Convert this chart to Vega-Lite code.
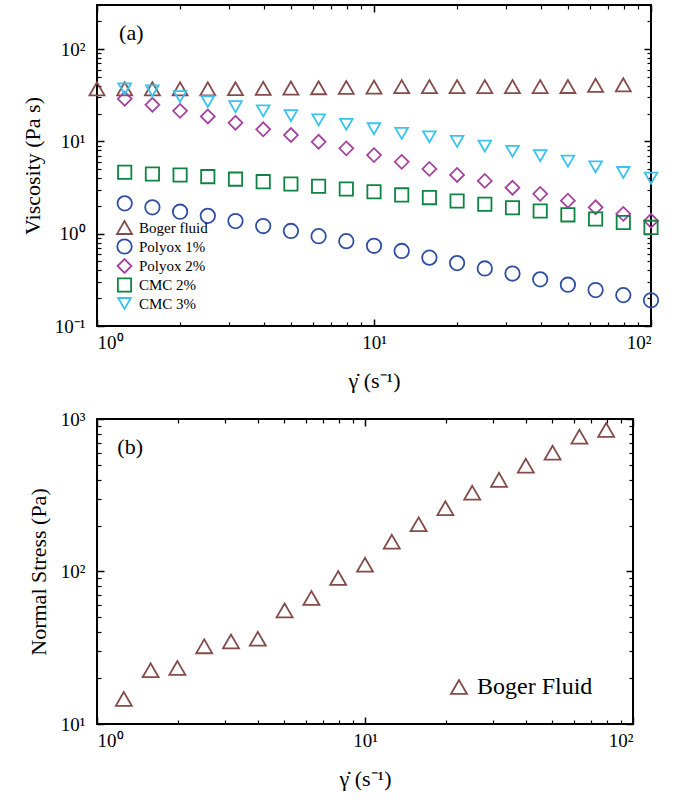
{
  "$schema": "https://vega.github.io/schema/vega-lite/v6.json",
  "padding": {"left": 20, "top": 3, "right": 5, "bottom": 5},
  "spacing": 93,
  "columns": 1,
  "align": "all",
  "bounds": "flush",
  "resolve": {"scale": {"color": "independent", "shape": "independent", "size": "independent"}, "legend": {"color": "independent", "shape": "independent", "size": "independent"}},
  "config": {
    "font": "Liberation Serif",
    "view": {"stroke": "black", "strokeWidth": 2},
    "axis": {"labelFont": "Liberation Serif", "labelFontSize": 19, "labelColor": "black", "titleFont": "Liberation Serif", "titleFontSize": 22, "titleFontWeight": "normal", "titleColor": "black", "grid": false, "domain": false, "tickColor": "black"},
    "legend": {"labelFont": "Liberation Serif", "labelColor": "black"}
  },
  "datasets": {
    "visc": [
      {"x": 1, "v": 37.1, "s": "Boger fluid"},
      {"x": 1.259, "v": 37.1, "s": "Boger fluid"},
      {"x": 1.585, "v": 37.1, "s": "Boger fluid"},
      {"x": 1.995, "v": 37.1, "s": "Boger fluid"},
      {"x": 2.512, "v": 37.1, "s": "Boger fluid"},
      {"x": 3.162, "v": 37.2, "s": "Boger fluid"},
      {"x": 3.981, "v": 37.5, "s": "Boger fluid"},
      {"x": 5.012, "v": 37.8, "s": "Boger fluid"},
      {"x": 6.31, "v": 38.1, "s": "Boger fluid"},
      {"x": 7.943, "v": 38.4, "s": "Boger fluid"},
      {"x": 10, "v": 38.7, "s": "Boger fluid"},
      {"x": 12.59, "v": 39.2, "s": "Boger fluid"},
      {"x": 15.85, "v": 39.2, "s": "Boger fluid"},
      {"x": 19.95, "v": 39.2, "s": "Boger fluid"},
      {"x": 25.12, "v": 39.2, "s": "Boger fluid"},
      {"x": 31.62, "v": 39.2, "s": "Boger fluid"},
      {"x": 39.81, "v": 39.2, "s": "Boger fluid"},
      {"x": 50.12, "v": 39.3, "s": "Boger fluid"},
      {"x": 63.1, "v": 40.5, "s": "Boger fluid"},
      {"x": 79.43, "v": 41, "s": "Boger fluid"},
      {"x": 1.259, "v": 2.13, "s": "Polyox 1%"},
      {"x": 1.585, "v": 1.93, "s": "Polyox 1%"},
      {"x": 1.995, "v": 1.73, "s": "Polyox 1%"},
      {"x": 2.512, "v": 1.56, "s": "Polyox 1%"},
      {"x": 3.162, "v": 1.37, "s": "Polyox 1%"},
      {"x": 3.981, "v": 1.21, "s": "Polyox 1%"},
      {"x": 5.012, "v": 1.07, "s": "Polyox 1%"},
      {"x": 6.31, "v": 0.94, "s": "Polyox 1%"},
      {"x": 7.943, "v": 0.83, "s": "Polyox 1%"},
      {"x": 10, "v": 0.74, "s": "Polyox 1%"},
      {"x": 12.59, "v": 0.65, "s": "Polyox 1%"},
      {"x": 15.85, "v": 0.55, "s": "Polyox 1%"},
      {"x": 19.95, "v": 0.48, "s": "Polyox 1%"},
      {"x": 25.12, "v": 0.42, "s": "Polyox 1%"},
      {"x": 31.62, "v": 0.37, "s": "Polyox 1%"},
      {"x": 39.81, "v": 0.32, "s": "Polyox 1%"},
      {"x": 50.12, "v": 0.28, "s": "Polyox 1%"},
      {"x": 63.1, "v": 0.245, "s": "Polyox 1%"},
      {"x": 79.43, "v": 0.216, "s": "Polyox 1%"},
      {"x": 100, "v": 0.19, "s": "Polyox 1%"},
      {"x": 1.259, "v": 28.9, "s": "Polyox 2%"},
      {"x": 1.585, "v": 24.9, "s": "Polyox 2%"},
      {"x": 1.995, "v": 21.4, "s": "Polyox 2%"},
      {"x": 2.512, "v": 18.6, "s": "Polyox 2%"},
      {"x": 3.162, "v": 15.9, "s": "Polyox 2%"},
      {"x": 3.981, "v": 13.5, "s": "Polyox 2%"},
      {"x": 5.012, "v": 11.7, "s": "Polyox 2%"},
      {"x": 6.31, "v": 9.9, "s": "Polyox 2%"},
      {"x": 7.943, "v": 8.4, "s": "Polyox 2%"},
      {"x": 10, "v": 7.1, "s": "Polyox 2%"},
      {"x": 12.59, "v": 6.0, "s": "Polyox 2%"},
      {"x": 15.85, "v": 5.03, "s": "Polyox 2%"},
      {"x": 19.95, "v": 4.33, "s": "Polyox 2%"},
      {"x": 25.12, "v": 3.73, "s": "Polyox 2%"},
      {"x": 31.62, "v": 3.15, "s": "Polyox 2%"},
      {"x": 39.81, "v": 2.7, "s": "Polyox 2%"},
      {"x": 50.12, "v": 2.28, "s": "Polyox 2%"},
      {"x": 63.1, "v": 1.93, "s": "Polyox 2%"},
      {"x": 79.43, "v": 1.64, "s": "Polyox 2%"},
      {"x": 100, "v": 1.38, "s": "Polyox 2%"},
      {"x": 1.259, "v": 4.62, "s": "CMC 2%"},
      {"x": 1.585, "v": 4.44, "s": "CMC 2%"},
      {"x": 1.995, "v": 4.33, "s": "CMC 2%"},
      {"x": 2.512, "v": 4.15, "s": "CMC 2%"},
      {"x": 3.162, "v": 3.9, "s": "CMC 2%"},
      {"x": 3.981, "v": 3.66, "s": "CMC 2%"},
      {"x": 5.012, "v": 3.46, "s": "CMC 2%"},
      {"x": 6.31, "v": 3.26, "s": "CMC 2%"},
      {"x": 7.943, "v": 3.05, "s": "CMC 2%"},
      {"x": 10, "v": 2.85, "s": "CMC 2%"},
      {"x": 12.59, "v": 2.63, "s": "CMC 2%"},
      {"x": 15.85, "v": 2.46, "s": "CMC 2%"},
      {"x": 19.95, "v": 2.26, "s": "CMC 2%"},
      {"x": 25.12, "v": 2.08, "s": "CMC 2%"},
      {"x": 31.62, "v": 1.91, "s": "CMC 2%"},
      {"x": 39.81, "v": 1.76, "s": "CMC 2%"},
      {"x": 50.12, "v": 1.6, "s": "CMC 2%"},
      {"x": 63.1, "v": 1.44, "s": "CMC 2%"},
      {"x": 79.43, "v": 1.32, "s": "CMC 2%"},
      {"x": 100, "v": 1.17, "s": "CMC 2%"},
      {"x": 1.259, "v": 37.1, "s": "CMC 3%"},
      {"x": 1.585, "v": 35.3, "s": "CMC 3%"},
      {"x": 1.995, "v": 30.6, "s": "CMC 3%"},
      {"x": 2.512, "v": 27.0, "s": "CMC 3%"},
      {"x": 3.162, "v": 23.8, "s": "CMC 3%"},
      {"x": 3.981, "v": 21.4, "s": "CMC 3%"},
      {"x": 5.012, "v": 19.0, "s": "CMC 3%"},
      {"x": 6.31, "v": 17.1, "s": "CMC 3%"},
      {"x": 7.943, "v": 15.3, "s": "CMC 3%"},
      {"x": 10, "v": 13.7, "s": "CMC 3%"},
      {"x": 12.59, "v": 12.2, "s": "CMC 3%"},
      {"x": 15.85, "v": 11.2, "s": "CMC 3%"},
      {"x": 19.95, "v": 10.0, "s": "CMC 3%"},
      {"x": 25.12, "v": 8.9, "s": "CMC 3%"},
      {"x": 31.62, "v": 7.8, "s": "CMC 3%"},
      {"x": 39.81, "v": 7.0, "s": "CMC 3%"},
      {"x": 50.12, "v": 6.1, "s": "CMC 3%"},
      {"x": 63.1, "v": 5.3, "s": "CMC 3%"},
      {"x": 79.43, "v": 4.6, "s": "CMC 3%"},
      {"x": 100, "v": 4.0, "s": "CMC 3%"}
    ],
    "normal": [
      {"x": 1.259, "v": 14.6, "s": "Boger Fluid"},
      {"x": 1.585, "v": 22.5, "s": "Boger Fluid"},
      {"x": 1.995, "v": 23.3, "s": "Boger Fluid"},
      {"x": 2.512, "v": 32.3, "s": "Boger Fluid"},
      {"x": 3.162, "v": 34.8, "s": "Boger Fluid"},
      {"x": 3.981, "v": 36.2, "s": "Boger Fluid"},
      {"x": 5.012, "v": 55.6, "s": "Boger Fluid"},
      {"x": 6.31, "v": 67.0, "s": "Boger Fluid"},
      {"x": 7.943, "v": 90.6, "s": "Boger Fluid"},
      {"x": 10, "v": 110.7, "s": "Boger Fluid"},
      {"x": 12.59, "v": 157, "s": "Boger Fluid"},
      {"x": 15.85, "v": 204, "s": "Boger Fluid"},
      {"x": 19.95, "v": 260, "s": "Boger Fluid"},
      {"x": 25.12, "v": 329, "s": "Boger Fluid"},
      {"x": 31.62, "v": 399, "s": "Boger Fluid"},
      {"x": 39.81, "v": 494, "s": "Boger Fluid"},
      {"x": 50.12, "v": 602, "s": "Boger Fluid"},
      {"x": 63.1, "v": 766, "s": "Boger Fluid"},
      {"x": 79.43, "v": 848, "s": "Boger Fluid"}
    ],
    "labA": [{"x": 1.33, "v": 148, "t": "(a)"}],
    "labB": [{"x": 1.33, "v": 659, "t": "(b)"}]
  },
  "concat": [
    {
      "width": 554,
      "height": 321,
      "resolve": {"axis": {"x": "independent", "y": "independent"}},
      "layer": [
        {
          "data": {"name": "visc"},
          "mark": {"type": "point", "filled": false, "strokeWidth": 1.8, "opacity": 1},
          "encoding": {
            "x": {"field": "x", "type": "quantitative", "scale": {"type": "log", "domain": [1, 100], "nice": false},
              "axis": {"orient": "bottom", "values": [1, 10, 100], "ticks": false, "labelPadding": 7, "labelExpr": "datum.value == 1 ? '10⁰' : datum.value == 10 ? '10¹' : '10²'", "title": "γ̇ (s⁻¹)", "titlePadding": 18}},
            "y": {"field": "v", "type": "quantitative", "scale": {"type": "log", "domain": [0.1, 300], "nice": false},
              "axis": {"orient": "left", "values": [0.1, 1, 10, 100], "ticks": false, "labelPadding": 12, "labelExpr": "datum.value < 0.5 ? '10⁻¹' : datum.value < 5 ? '10⁰' : datum.value < 50 ? '10¹' : '10²'", "title": "Viscosity (Pa s)", "titlePadding": 10}},
            "color": {"field": "s", "type": "nominal",
              "scale": {"domain": ["Boger fluid", "Polyox 1%", "Polyox 2%", "CMC 2%", "CMC 3%"], "range": ["#844b4b", "#2f4ea3", "#a4429e", "#0e8443", "#39c3ee"]},
              "legend": {"title": null, "orient": "bottom-left", "offset": 13, "padding": 0, "labelFontSize": 15, "rowPadding": -4, "labelOffset": 6, "symbolOffset": 6, "symbolStrokeWidth": 1.8}},
            "shape": {"field": "s", "type": "nominal",
              "scale": {"domain": ["Boger fluid", "Polyox 1%", "Polyox 2%", "CMC 2%", "CMC 3%"], "range": ["triangle-up", "circle", "diamond", "square", "triangle-down"]},
              "legend": {"title": null, "orient": "bottom-left", "offset": 13, "padding": 0, "labelFontSize": 15, "rowPadding": -4, "labelOffset": 6, "symbolOffset": 6, "symbolStrokeWidth": 1.8}},
            "size": {"field": "s", "type": "nominal",
              "scale": {"domain": ["Boger fluid", "Polyox 1%", "Polyox 2%", "CMC 2%", "CMC 3%"], "range": [225, 160, 150, 81, 256]},
              "legend": {"title": null, "orient": "bottom-left", "offset": 13, "padding": 0, "labelFontSize": 15, "rowPadding": -4, "labelOffset": 6, "symbolOffset": 6, "symbolStrokeWidth": 1.8}}
          }
        },
        {
          "data": {"name": "visc"},
          "mark": {"type": "point", "opacity": 0},
          "encoding": {
            "x": {"field": "x", "type": "quantitative", "scale": {"type": "log", "domain": [1, 100], "nice": false},
              "axis": {"orient": "bottom", "values": [1, 10, 100], "labels": false, "ticks": true, "tickSize": -7, "tickWidth": 1.5, "title": null}},
            "y": {"field": "v", "type": "quantitative", "scale": {"type": "log", "domain": [0.1, 300], "nice": false},
              "axis": {"orient": "left", "values": [0.1, 1, 10, 100], "labels": false, "ticks": true, "tickSize": -7, "tickWidth": 1.5, "title": null}}
          }
        },
        {
          "data": {"name": "visc"},
          "mark": {"type": "point", "opacity": 0},
          "encoding": {
            "x": {"field": "x", "type": "quantitative", "scale": {"type": "log", "domain": [1, 100], "nice": false},
              "axis": {"orient": "bottom", "values": [2, 3, 4, 5, 6, 7, 8, 9, 20, 30, 40, 50, 60, 70, 80, 90], "labels": false, "ticks": true, "tickSize": -4, "tickWidth": 1.2, "title": null}},
            "y": {"field": "v", "type": "quantitative", "scale": {"type": "log", "domain": [0.1, 300], "nice": false},
              "axis": {"orient": "left", "values": [0.2, 0.3, 0.4, 0.5, 0.6, 0.7, 0.8, 0.9, 2, 3, 4, 5, 6, 7, 8, 9, 20, 30, 40, 50, 60, 70, 80, 90, 200, 300], "labels": false, "ticks": true, "tickSize": -4, "tickWidth": 1.2, "title": null}}
          }
        },
        {
          "data": {"name": "visc"},
          "mark": {"type": "point", "opacity": 0},
          "encoding": {
            "x": {"field": "x", "type": "quantitative", "scale": {"type": "log", "domain": [1, 100], "nice": false},
              "axis": {"orient": "top", "values": [1, 10, 100], "labels": false, "ticks": true, "tickSize": -7, "tickWidth": 1.5, "title": null}},
            "y": {"field": "v", "type": "quantitative", "scale": {"type": "log", "domain": [0.1, 300], "nice": false},
              "axis": {"orient": "right", "values": [0.1, 1, 10, 100], "labels": false, "ticks": true, "tickSize": -7, "tickWidth": 1.5, "title": null}}
          }
        },
        {
          "data": {"name": "visc"},
          "mark": {"type": "point", "opacity": 0},
          "encoding": {
            "x": {"field": "x", "type": "quantitative", "scale": {"type": "log", "domain": [1, 100], "nice": false},
              "axis": {"orient": "top", "values": [2, 3, 4, 5, 6, 7, 8, 9, 20, 30, 40, 50, 60, 70, 80, 90], "labels": false, "ticks": true, "tickSize": -4, "tickWidth": 1.2, "title": null}},
            "y": {"field": "v", "type": "quantitative", "scale": {"type": "log", "domain": [0.1, 300], "nice": false},
              "axis": {"orient": "right", "values": [0.2, 0.3, 0.4, 0.5, 0.6, 0.7, 0.8, 0.9, 2, 3, 4, 5, 6, 7, 8, 9, 20, 30, 40, 50, 60, 70, 80, 90, 200, 300], "labels": false, "ticks": true, "tickSize": -4, "tickWidth": 1.2, "title": null}}
          }
        },
        {
          "data": {"name": "labA"},
          "mark": {"type": "text", "font": "Liberation Serif", "fontSize": 22, "align": "center", "baseline": "middle", "color": "black"},
          "encoding": {
            "x": {"field": "x", "type": "quantitative", "scale": {"type": "log", "domain": [1, 100], "nice": false}, "axis": null},
            "y": {"field": "v", "type": "quantitative", "scale": {"type": "log", "domain": [0.1, 300], "nice": false}, "axis": null},
            "text": {"field": "t"}
          }
        }
      ]
    },
    {
      "width": 536,
      "height": 305,
      "resolve": {"axis": {"x": "independent", "y": "independent"}},
      "layer": [
        {
          "data": {"name": "normal"},
          "mark": {"type": "point", "filled": false, "strokeWidth": 1.8, "opacity": 1, "size": 256},
          "encoding": {
            "x": {"field": "x", "type": "quantitative", "scale": {"type": "log", "domain": [1, 100], "nice": false},
              "axis": {"orient": "bottom", "values": [1, 10, 100], "ticks": false, "labelPadding": 7, "labelExpr": "datum.value == 1 ? '10⁰' : datum.value == 10 ? '10¹' : '10²'", "title": "γ̇ (s⁻¹)", "titlePadding": 18}},
            "y": {"field": "v", "type": "quantitative", "scale": {"type": "log", "domain": [10, 1000], "nice": false},
              "axis": {"orient": "left", "values": [10, 100, 1000], "ticks": false, "labelPadding": 12, "labelExpr": "datum.value < 50 ? '10¹' : datum.value < 500 ? '10²' : '10³'", "title": "Normal Stress (Pa)", "titlePadding": 10}},
            "color": {"field": "s", "type": "nominal",
              "scale": {"domain": ["Boger Fluid"], "range": ["#844b4b"]},
              "legend": {"title": null, "orient": "none", "legendX": 350, "legendY": 256, "padding": 0, "labelFontSize": 24, "labelOffset": 6, "symbolStrokeWidth": 1.8, "symbolSize": 256}},
            "shape": {"field": "s", "type": "nominal",
              "scale": {"domain": ["Boger Fluid"], "range": ["triangle-up"]},
              "legend": {"title": null, "orient": "none", "legendX": 350, "legendY": 256, "padding": 0, "labelFontSize": 24, "labelOffset": 6, "symbolStrokeWidth": 1.8, "symbolSize": 256}}
          }
        },
        {
          "data": {"name": "normal"},
          "mark": {"type": "point", "opacity": 0},
          "encoding": {
            "x": {"field": "x", "type": "quantitative", "scale": {"type": "log", "domain": [1, 100], "nice": false},
              "axis": {"orient": "bottom", "values": [1, 10, 100], "labels": false, "ticks": true, "tickSize": -7, "tickWidth": 1.5, "title": null}},
            "y": {"field": "v", "type": "quantitative", "scale": {"type": "log", "domain": [10, 1000], "nice": false},
              "axis": {"orient": "left", "values": [10, 100, 1000], "labels": false, "ticks": true, "tickSize": -7, "tickWidth": 1.5, "title": null}}
          }
        },
        {
          "data": {"name": "normal"},
          "mark": {"type": "point", "opacity": 0},
          "encoding": {
            "x": {"field": "x", "type": "quantitative", "scale": {"type": "log", "domain": [1, 100], "nice": false},
              "axis": {"orient": "bottom", "values": [2, 3, 4, 5, 6, 7, 8, 9, 20, 30, 40, 50, 60, 70, 80, 90], "labels": false, "ticks": true, "tickSize": -4, "tickWidth": 1.2, "title": null}},
            "y": {"field": "v", "type": "quantitative", "scale": {"type": "log", "domain": [10, 1000], "nice": false},
              "axis": {"orient": "left", "values": [20, 30, 40, 50, 60, 70, 80, 90, 200, 300, 400, 500, 600, 700, 800, 900], "labels": false, "ticks": true, "tickSize": -4, "tickWidth": 1.2, "title": null}}
          }
        },
        {
          "data": {"name": "normal"},
          "mark": {"type": "point", "opacity": 0},
          "encoding": {
            "x": {"field": "x", "type": "quantitative", "scale": {"type": "log", "domain": [1, 100], "nice": false},
              "axis": {"orient": "top", "values": [1, 10, 100], "labels": false, "ticks": true, "tickSize": -7, "tickWidth": 1.5, "title": null}},
            "y": {"field": "v", "type": "quantitative", "scale": {"type": "log", "domain": [10, 1000], "nice": false},
              "axis": {"orient": "right", "values": [10, 100, 1000], "labels": false, "ticks": true, "tickSize": -7, "tickWidth": 1.5, "title": null}}
          }
        },
        {
          "data": {"name": "normal"},
          "mark": {"type": "point", "opacity": 0},
          "encoding": {
            "x": {"field": "x", "type": "quantitative", "scale": {"type": "log", "domain": [1, 100], "nice": false},
              "axis": {"orient": "top", "values": [2, 3, 4, 5, 6, 7, 8, 9, 20, 30, 40, 50, 60, 70, 80, 90], "labels": false, "ticks": true, "tickSize": -4, "tickWidth": 1.2, "title": null}},
            "y": {"field": "v", "type": "quantitative", "scale": {"type": "log", "domain": [10, 1000], "nice": false},
              "axis": {"orient": "right", "values": [20, 30, 40, 50, 60, 70, 80, 90, 200, 300, 400, 500, 600, 700, 800, 900], "labels": false, "ticks": true, "tickSize": -4, "tickWidth": 1.2, "title": null}}
          }
        },
        {
          "data": {"name": "labB"},
          "mark": {"type": "text", "font": "Liberation Serif", "fontSize": 22, "align": "center", "baseline": "middle", "color": "black"},
          "encoding": {
            "x": {"field": "x", "type": "quantitative", "scale": {"type": "log", "domain": [1, 100], "nice": false}, "axis": null},
            "y": {"field": "v", "type": "quantitative", "scale": {"type": "log", "domain": [10, 1000], "nice": false}, "axis": null},
            "text": {"field": "t"}
          }
        }
      ]
    }
  ]
}
